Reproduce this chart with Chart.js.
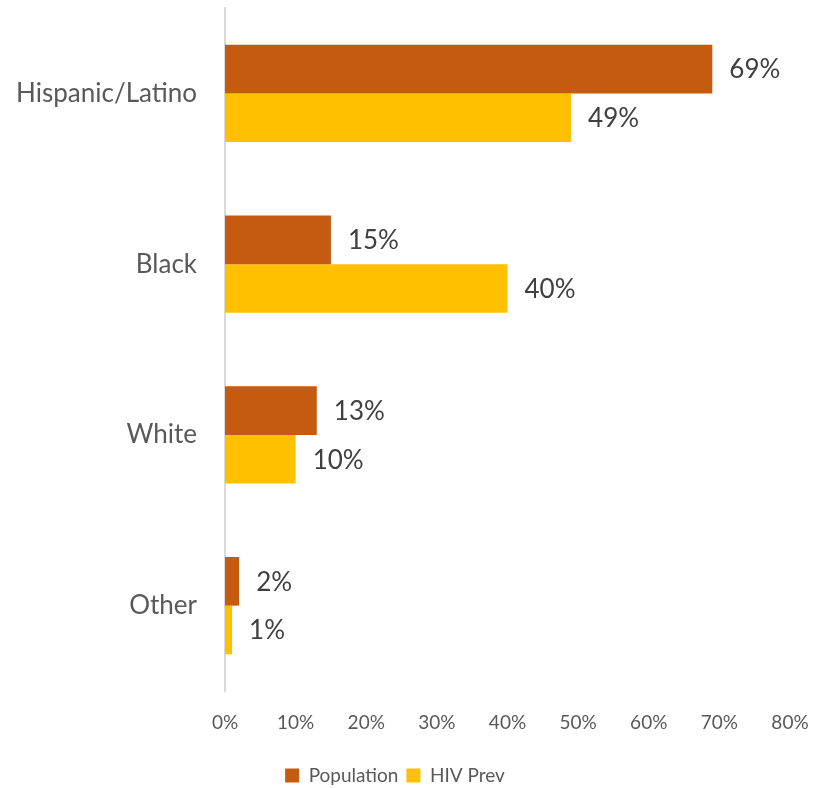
<!DOCTYPE html>
<html>
<head>
<meta charset="utf-8">
<script src="https://cdn.jsdelivr.net/npm/chart.js@4/dist/chart.umd.min.js"></script>
<style>
  html, body { margin: 0; padding: 0; background: #fff; }
  #wrap { width: 815px; height: 788px; }
</style>
</head>
<body>
<div id="wrap"><canvas id="chart" width="815" height="788"></canvas></div>
<script>
const categories = ['Hispanic/Latino', 'Black', 'White', 'Other'];
const population = [69, 15, 13, 2];
const hivPrev = [49, 40, 10, 1];
const xTicks = [0, 10, 20, 30, 40, 50, 60, 70, 80];

const FONT = 'Lato, "Open Sans", sans-serif';

// draws "69%" etc. just right of each bar
const barLabels = {
    id: 'barLabels',
    afterDatasetsDraw(chart) {
        const ctx = chart.ctx;
        ctx.save();
        ctx.font = '26px ' + FONT;
        ctx.fillStyle = '#404040';
        ctx.textBaseline = 'middle';
        ctx.textAlign = 'left';
        chart.data.datasets.forEach((ds, i) => {
            const meta = chart.getDatasetMeta(i);
            meta.data.forEach((bar, j) => {
                ctx.fillText(ds.data[j] + '%', bar.x + 17, bar.y + 1);
            });
        });
        ctx.restore();
    }
};

new Chart(document.getElementById('chart').getContext('2d'), {
    type: 'bar',
    data: {
        labels: categories,
        datasets: [
            { label: 'Population', data: population, backgroundColor: '#C55A11', borderWidth: 0 },
            { label: 'HIV Prev', data: hivPrev, backgroundColor: '#FFC000', borderWidth: 0 }
        ]
    },
    options: {
        indexAxis: 'y',
        responsive: false,
        animation: false,
        layout: { padding: { left: 0, right: 25, top: 8, bottom: -7 } },
        datasets: { bar: { categoryPercentage: 0.57, barPercentage: 1.0 } },
        plugins: {
            legend: {
                position: 'bottom',
                labels: {
                    font: { family: FONT, size: 19 },
                    color: '#595959',
                    boxWidth: 14,
                    boxHeight: 14,
                    padding: 8
                }
            },
            tooltip: { enabled: false }
        },
        scales: {
            x: {
                min: 0,
                max: 80,
                afterBuildTicks(scale) {
                    scale.ticks = xTicks.map(v => ({ value: v }));
                },
                grid: { display: false, drawTicks: false },
                border: { display: false },
                ticks: {
                    callback: v => v + '%',
                    font: { family: FONT, size: 19 },
                    color: '#595959',
                    padding: 20,
                    maxRotation: 0
                },
                afterFit(scale) {
                    scale.paddingRight = 0;
                    scale.paddingLeft = 0;
                    scale.height = 67;
                }
            },
            y: {
                grid: { display: false, drawTicks: false },
                border: { display: true, color: '#d9d9d9', width: 2 },
                ticks: {
                    font: { family: FONT, size: 26 },
                    color: '#595959',
                    padding: 28
                },
                afterFit(scale) {
                    scale.width = 225;
                    scale.paddingTop = 0;
                    scale.paddingBottom = 0;
                }
            }
        }
    },
    plugins: [barLabels]
});
</script>
</body>
</html>
